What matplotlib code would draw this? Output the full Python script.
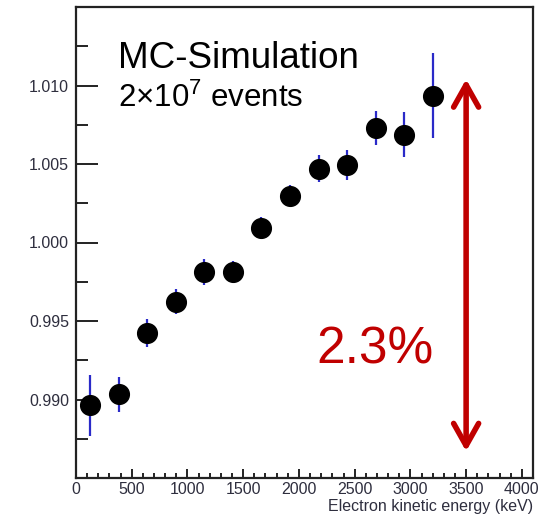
import matplotlib
matplotlib.use("Agg")
import matplotlib.pyplot as plt
from matplotlib.ticker import MultipleLocator, FormatStrFormatter

plt.rcParams['font.family'] = ['Liberation Sans', 'DejaVu Sans']
plt.rcParams['mathtext.fontset'] = 'custom'
plt.rcParams['mathtext.rm'] = 'Liberation Sans'

# electron kinetic energy bin centres (keV) and relative response
energy = [128, 384, 640, 896, 1152, 1408, 1664, 1920, 2176, 2432, 2688, 2944, 3200]
ratio = [0.98962, 0.99032, 0.99425, 0.99623, 0.99812, 0.99812, 1.00091,
         1.00299, 1.00470, 1.00492, 1.00729, 1.00687, 1.00934]
ratio_err = [0.00195, 0.0011, 0.0009, 0.0008, 0.0008, 0.0007, 0.0007,
             0.00067, 0.00086, 0.00095, 0.0011, 0.00143, 0.0027]

x_ticks = [0, 500, 1000, 1500, 2000, 2500, 3000, 3500, 4000]
y_ticks = [0.990, 0.995, 1.000, 1.005, 1.010]
arrow_x = 3500
arrow_span = (0.9867, 1.0104)

W, H = 543, 520
fig = plt.figure(figsize=(W / 100, H / 100), dpi=100)
ax = fig.add_axes([76 / W, 1 - 478 / H, 457 / W, 471 / H])

ax.errorbar(energy, ratio, yerr=ratio_err, fmt='none', ecolor='#2a2ac8',
            elinewidth=1.6, capsize=0, zorder=2)
ax.plot(energy, ratio, 'o', color='black', markersize=14.2, zorder=3)

ax.set_xlim(0, 4100)
ax.set_ylim(0.985, 1.015)
ax.set_xticks(x_ticks)
ax.set_yticks(y_ticks)
ax.xaxis.set_minor_locator(MultipleLocator(100))
ax.yaxis.set_minor_locator(MultipleLocator(0.0025))
ax.yaxis.set_major_formatter(FormatStrFormatter('%.3f'))

for s in ax.spines.values():
    s.set_linewidth(1.6)
    s.set_color('#222222')

lab_col = '#2e2e3e'
ax.tick_params(axis='both', which='both', direction='in', width=1.4,
               color='#222222', labelcolor=lab_col, labelsize=11.5)
ax.tick_params(axis='y', which='major', length=15.5, pad=5)
ax.tick_params(axis='y', which='minor', length=8.5)
ax.tick_params(axis='x', which='major', length=6.5, pad=3)
ax.tick_params(axis='x', which='minor', length=3.6)

ax.set_xlabel('Electron kinetic energy (keV)', fontsize=11.5, color=lab_col,
              loc='right', labelpad=1)

ax.text(0.092, 0.870, 'MC-Simulation', transform=ax.transAxes,
        fontsize=26.5, va='baseline', ha='left', color='black')
ax.text(0.092, 0.788, r'2×10$^{\mathregular{7}}$ events', transform=ax.transAxes,
        fontsize=22.5, va='baseline', ha='left', color='black')
ax.text(0.527, 0.244, '2.3%', transform=ax.transAxes,
        fontsize=37, va='baseline', ha='left', color='#c00000')

ax.annotate('', xy=(arrow_x, arrow_span[0]), xytext=(arrow_x, arrow_span[1]),
            arrowprops=dict(arrowstyle='<->,head_length=0.8,head_width=0.45',
                            lw=4, color='#c00000', shrinkA=0, shrinkB=0,
                            mutation_scale=20))

fig.savefig('out.png', dpi=100)
